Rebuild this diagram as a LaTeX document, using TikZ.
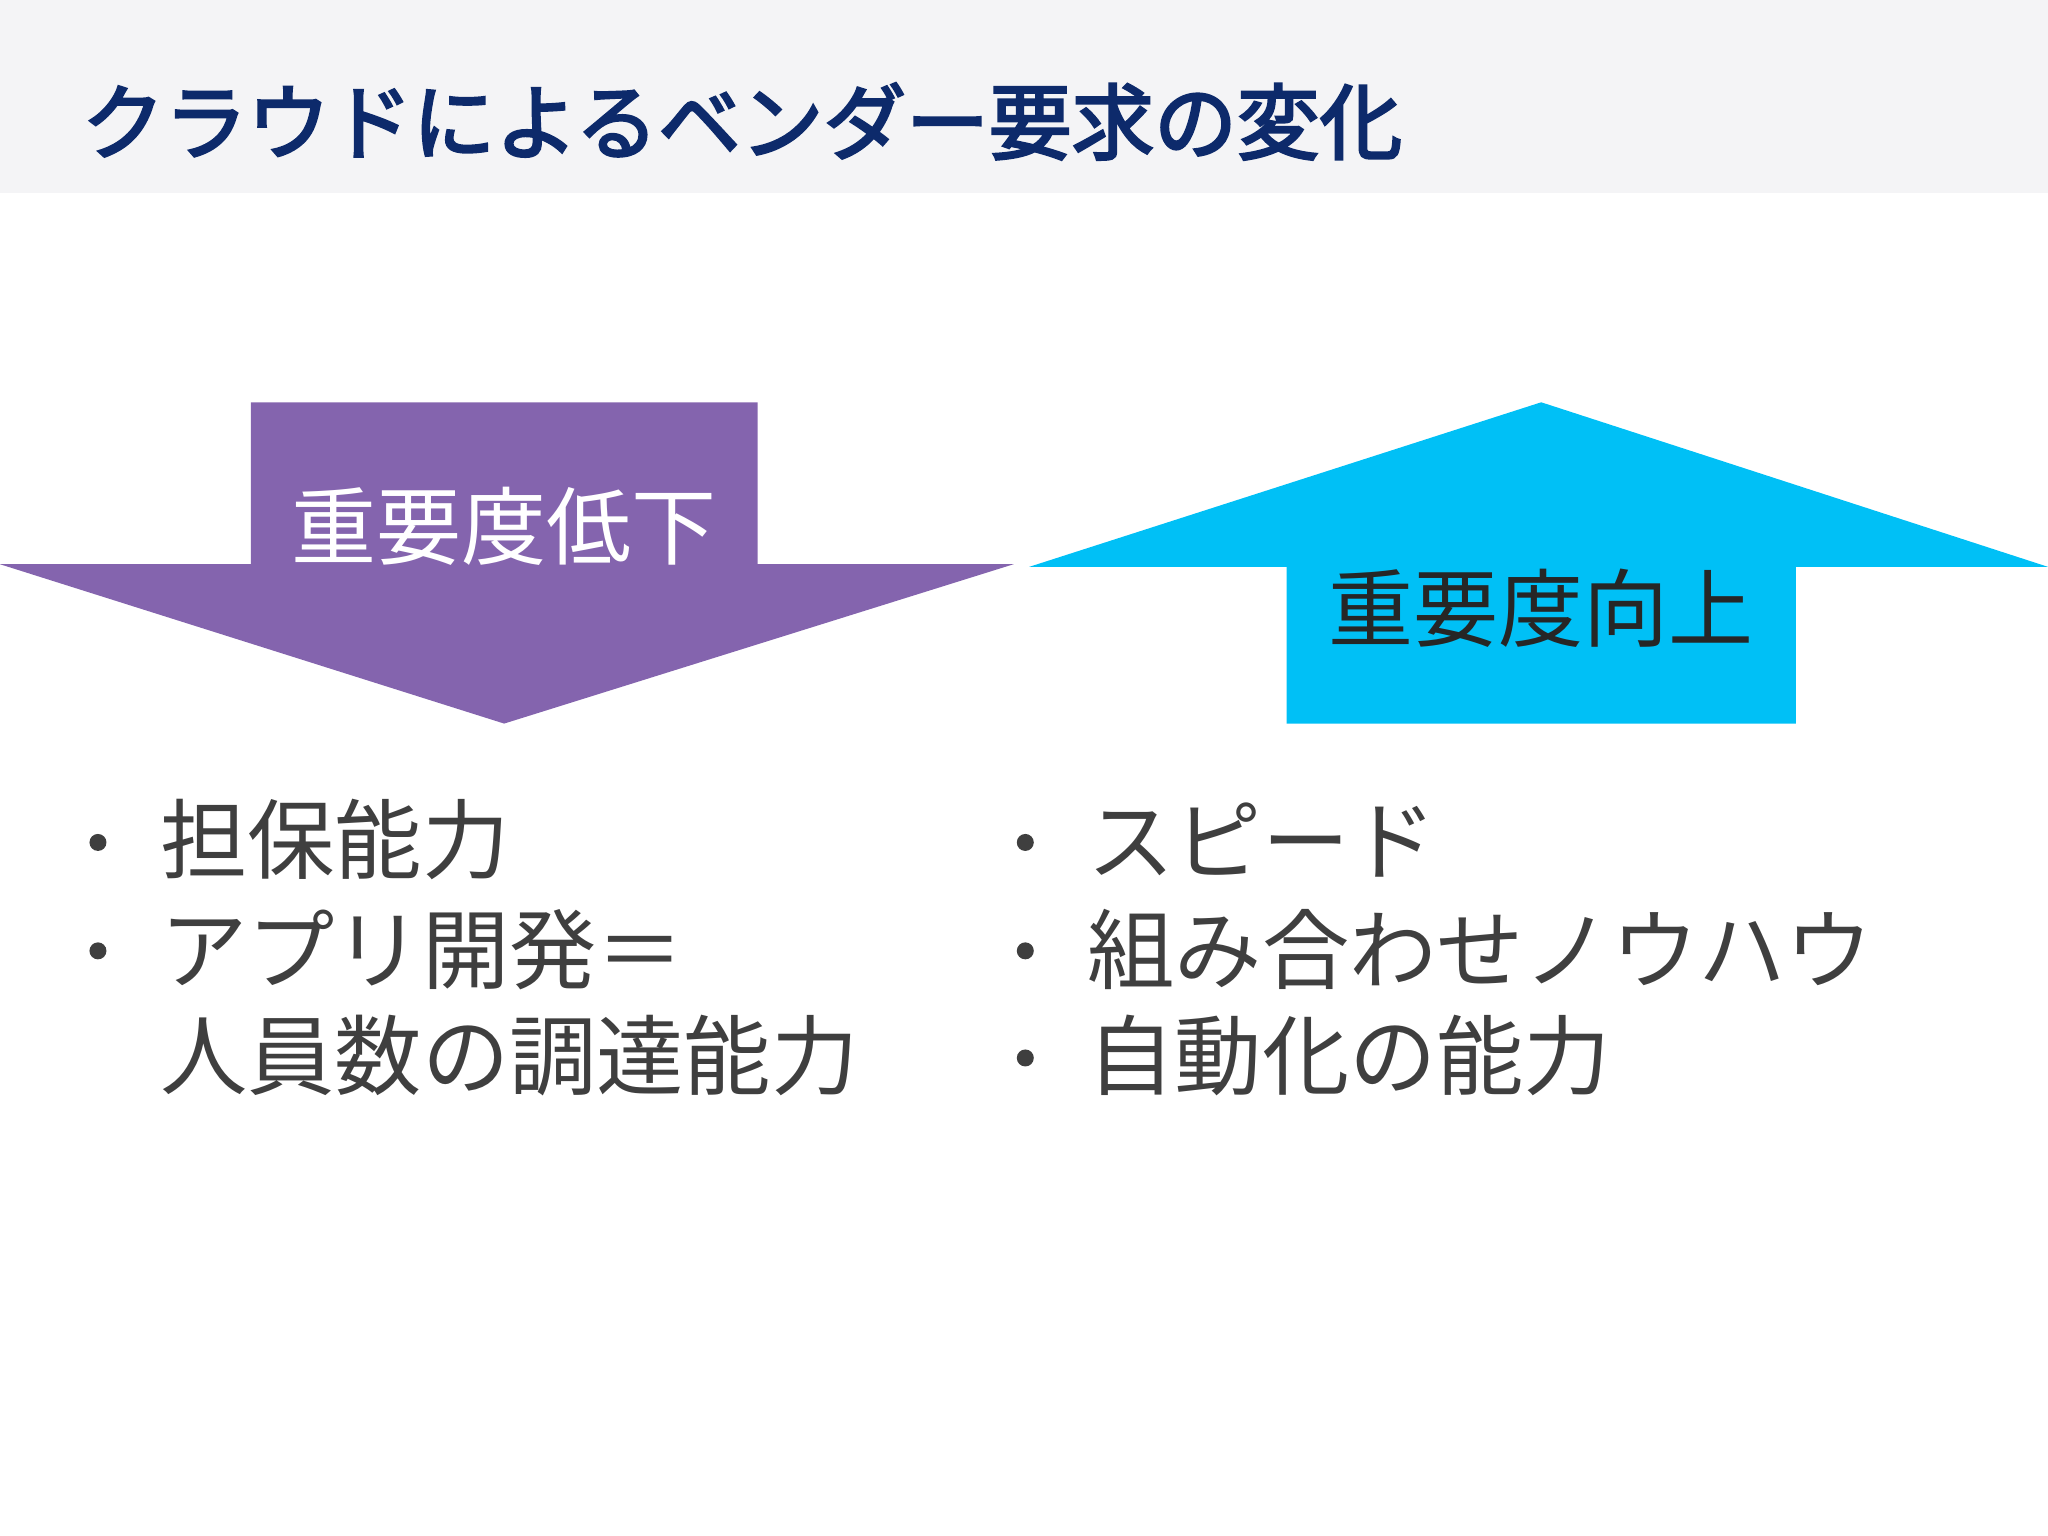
\documentclass[tikz,border=0pt]{standalone}
\usepackage{fontspec}
\newfontfamily\jp{Noto Sans CJK JP}
\newfontfamily\jpb{Noto Sans CJK JP}[FakeBold=3]
\definecolor{band}{HTML}{F4F4F6}
\definecolor{navy}{HTML}{0D2A6B}
\definecolor{purp}{HTML}{8464AE}
\definecolor{cyanb}{HTML}{00C0F6}
\definecolor{txt}{HTML}{3F3F3F}
\tikzset{bul/.style={anchor=west,inner sep=0pt,text=txt,font=\jp\fontsize{19}{22}\selectfont},
dot/.style={circle,fill=txt,inner sep=0pt,minimum size=0.13cm}}
\begin{document}
\begin{tikzpicture}[x=0.01cm,y=-0.01cm]
\useasboundingbox (0,0) rectangle (1568,1176);
\fill[band] (0,0) rectangle (1568,148);
\node[anchor=west,inner sep=0pt,text=navy,font=\jpb\fontsize{18}{20}\selectfont] (title) at (62,93) {クラウドによるベンダー要求の変化};
\fill[purp] (192,308) -- (580,308) -- (580,432) -- (776,432) -- (386,554) -- (0,432) -- (192,432) -- cycle;
\node[text=white,font=\jp\fontsize{18.5}{20}\selectfont] (down) at (386,403) {重要度低下};
\fill[cyanb] (1180,308) -- (1568,434) -- (1375,434) -- (1375,554) -- (985,554) -- (985,434) -- (788,434) -- cycle;
\node[text=black!85,font=\jp\fontsize{18.5}{20}\selectfont] (up) at (1180,466) {重要度向上};
\node[dot] (d1) at (75,645) {};
\node[bul] (l1) at (122,643) {担保能力};
\node[dot] (d2) at (75,728) {};
\node[bul] (l2) at (122,727) {アプリ開発＝};
\node[bul] (l3) at (122,808) {人員数の調達能力};
\node[dot] (d3) at (785,645) {};
\node[bul] (r1) at (832,643) {スピード};
\node[dot] (d4) at (785,728) {};
\node[bul] (r2) at (832,727) {組み合わせノウハウ};
\node[dot] (d5) at (785,810) {};
\node[bul] (r3) at (832,808) {自動化の能力};
\end{tikzpicture}
\end{document}
